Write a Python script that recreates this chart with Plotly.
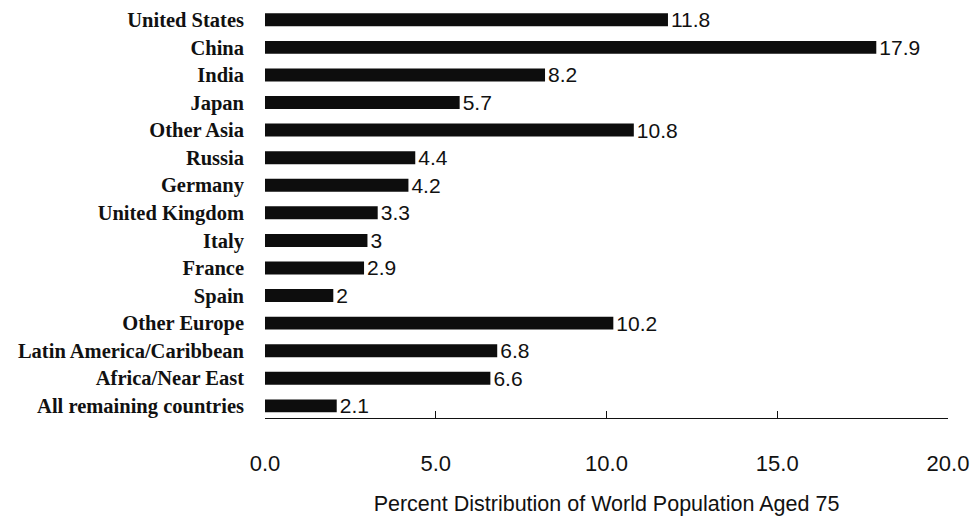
import plotly.graph_objects as go

# Share of the world's population aged 75 and over, by country / region (%)
regions = [
    "United States", "China", "India", "Japan", "Other Asia", "Russia",
    "Germany", "United Kingdom", "Italy", "France", "Spain", "Other Europe",
    "Latin America/Caribbean", "Africa/Near East", "All remaining countries",
]
shares = [11.8, 17.9, 8.2, 5.7, 10.8, 4.4, 4.2, 3.3, 3, 2.9, 2, 10.2, 6.8, 6.6, 2.1]
share_labels = [f"{v:g}" for v in shares]

x_ticks = [0, 5, 10, 15, 20]
x_tick_text = ["0.0", "5.0", "10.0", "15.0", "20.0"]
x_title = "Percent Distribution of World Population Aged 75"

sans = "Liberation Sans, Arial, sans-serif"
serif = "Liberation Serif, Times New Roman, serif"

fig = go.Figure(
    go.Bar(
        x=shares,
        y=regions,
        orientation="h",
        marker=dict(color="#0d0d0d", line=dict(width=0)),
        text=share_labels,
        textposition="outside",
        constraintext="none",
        textfont=dict(family=sans, size=21, color="#111"),
        cliponaxis=False,
        hoverinfo="skip",
    )
)

fig.update_layout(
    width=977,
    height=516,
    margin=dict(l=265, r=29, t=6, b=98),
    paper_bgcolor="white",
    plot_bgcolor="white",
    bargap=0.53,
    showlegend=False,
)

fig.update_yaxes(
    type="category",
    categoryorder="array",
    categoryarray=regions,
    range=[len(regions) - 0.56, -0.5],
    automargin=False,
    showgrid=False,
    showline=False,
    ticks="",
    ticklabelstandoff=20,
    tickfont=dict(family=serif, size=20.5, color="#111", weight="bold"),
)

fig.update_xaxes(
    range=[0, 20],
    tickvals=x_ticks,
    ticktext=x_tick_text,
    automargin=False,
    showgrid=False,
    zeroline=False,
    showline=True,
    linecolor="#111",
    linewidth=1.3,
    ticks="inside",
    ticklen=7,
    tickwidth=1.3,
    tickcolor="#111",
    ticklabelstandoff=25,
    tickfont=dict(family=sans, size=22, color="#111"),
    title=dict(
        text=x_title,
        standoff=28,
        font=dict(family=sans, size=21.5, color="#111"),
    ),
)

fig.write_html("out.html")
